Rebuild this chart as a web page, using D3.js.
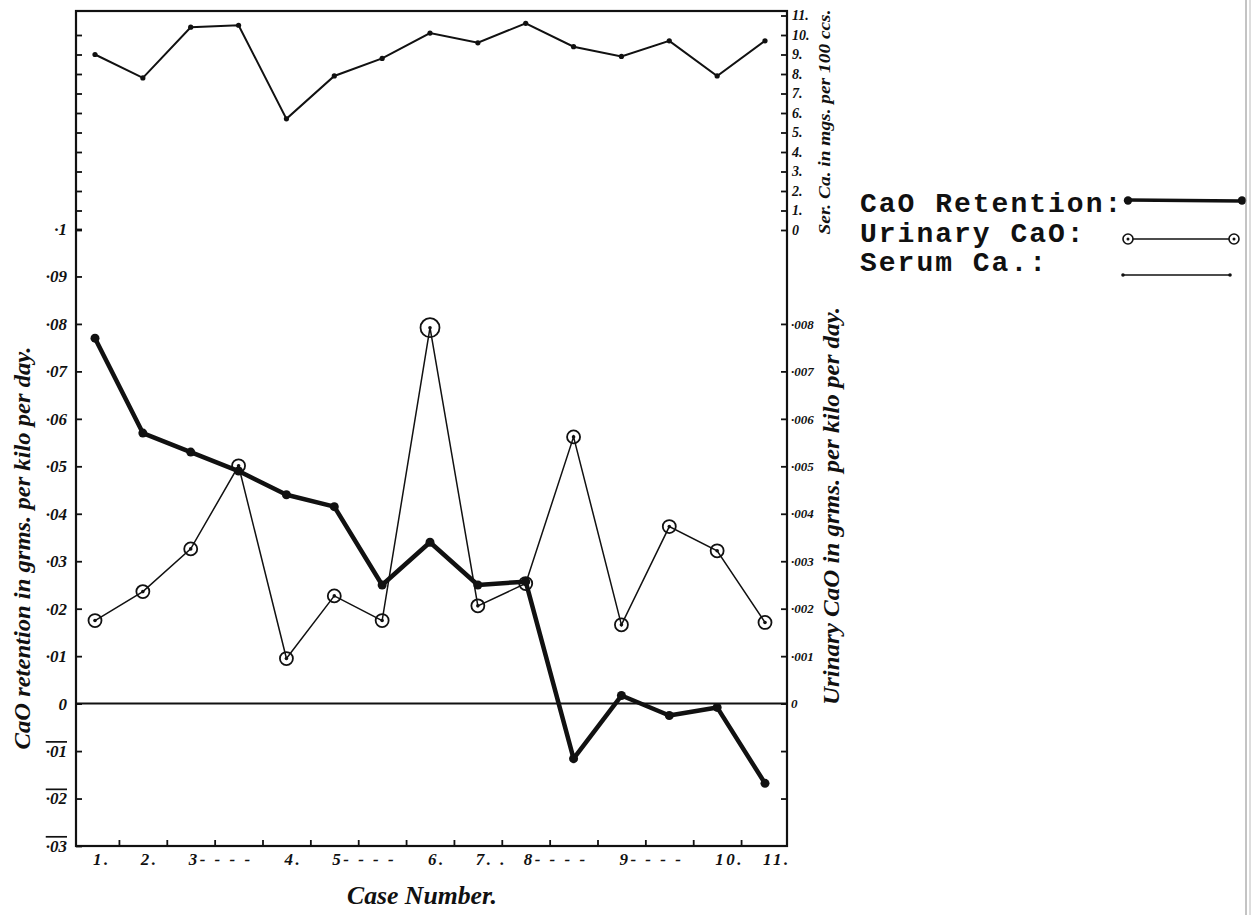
<!DOCTYPE html>
<html>
<head>
<meta charset="utf-8">
<script src="https://cdn.jsdelivr.net/npm/d3@7/dist/d3.min.js"></script>
<style>
  html, body { margin: 0; padding: 0; background: #fff; }
  svg { display: block; }
  .hand { font-family: "Liberation Serif", "DejaVu Serif", serif; font-style: italic; font-weight: bold; fill: #111; }
  .legend text { font-family: "Liberation Mono", "DejaVu Sans Mono", monospace; font-weight: bold; fill: #111; }
</style>
</head>
<body>
<svg id="chart" width="1253" height="915"></svg>
<script>
'use strict';

// Cases along the bottom; some cases span two observations.
var caseLabels = ['1.', '2.', '3- - - -', '4.', '5- - - -', '6.', '7. .', '8- - - -', '9- - - -', '10.', '11.'];
var caseStart = [0, 1, 2, 4, 5, 7, 8, 9, 11, 13, 14];

// CaO retention, grms. per kilo per day (left axis).
var retention = [0.077, 0.057, 0.053, 0.049, 0.044, 0.0415, 0.025, 0.034, 0.025, 0.0257,
  -0.0116, 0.0017, -0.0025, -0.0008, -0.0168];
// Urinary CaO, grms. per kilo per day (lower right axis).
var urinary = [0.00175, 0.00236, 0.00326, 0.00501, 0.00095, 0.00227, 0.00175, 0.00792,
  0.00206, 0.00253, 0.00562, 0.00166, 0.00373, 0.00322, 0.00171];
// Serum Ca., mgs. per 100 ccs. (upper right axis).
var serum = [9.0, 7.8, 10.4, 10.5, 5.7, 7.9, 8.8, 10.1, 9.6, 10.6, 9.4, 8.9, 9.7, 7.9, 9.7];

var retentionTicks = d3.range(-3, 11).map(function(i) { return i / 100; });
var urinaryTicks = d3.range(-2, 9).map(function(i) { return i / 1000; });
var serumTicks = d3.range(0, 12);
var serumLeftTicks = d3.range(0, 11);

var frame = { left: 76, right: 787, top: 11, bottom: 846 },
    ink = '#111',
    bigRing = 7;

var svg = d3.select('#chart');

var obs = d3.range(retention.length);
var x = d3.scaleLinear().domain([0, obs.length - 1]).range([95, 765]);
var yRet = d3.scaleLinear().domain([-0.03, 0.1]).range([frame.bottom, 229]);
var yUri = d3.scaleLinear().domain([-0.003, 0.01]).range([frame.bottom, 229]);
var ySer = d3.scaleLinear().domain([0, 11]).range([230, 15.5]);

/**
 * Turn 0.09 into '·09', the way the ticks were written by hand.
 */
function dotted(d, digits) {
  if (d === 0) {
    return '0';
  }
  return String(+Math.abs(d).toFixed(digits)).slice(1).replace('.', '\u00b7');
}

function styleAxis(g, size) {
  g.select('.domain').remove();
  g.selectAll('.tick line').attr('stroke', ink).attr('stroke-width', 1.8);
  g.selectAll('.tick text')
    .attr('class', 'hand')
    .attr('font-size', size)
    .attr('fill', ink);
}

// Frame and zero line.
svg.append('rect')
  .attr('x', frame.left)
  .attr('y', frame.top)
  .attr('width', frame.right - frame.left)
  .attr('height', frame.bottom - frame.top)
  .attr('fill', 'none')
  .attr('stroke', ink)
  .attr('stroke-width', 2.2);

svg.append('line')
  .attr('x1', frame.left).attr('x2', frame.right)
  .attr('y1', yRet(0)).attr('y2', yRet(0))
  .attr('stroke', ink)
  .attr('stroke-width', 2);

// Left axis: retention, plus unlabelled serum ticks above it.
svg.append('g')
  .attr('transform', 'translate(' + frame.left + ',0)')
  .call(d3.axisLeft(yRet).tickValues(retentionTicks).tickSize(-6).tickPadding(9)
    .tickFormat(function(d) { return dotted(d, 2); }))
  .call(styleAxis, 17)
  .selectAll('.tick text')
  .filter(function(d) { return d < 0; })
  .style('text-decoration', 'overline');

svg.append('g')
  .attr('transform', 'translate(' + frame.left + ',0)')
  .call(d3.axisLeft(ySer).tickValues(serumLeftTicks).tickSize(-6).tickFormat(''))
  .call(styleAxis, 12);

// Right axes: urinary below, serum above.
svg.append('g')
  .attr('transform', 'translate(' + frame.right + ',0)')
  .call(d3.axisRight(yUri).tickValues(urinaryTicks).tickSize(-6).tickPadding(4)
    .tickFormat(function(d) { return d < 0 ? '' : dotted(d, 3); }))
  .call(styleAxis, 13);

svg.append('g')
  .attr('transform', 'translate(' + frame.right + ',0)')
  .call(d3.axisRight(ySer).tickValues(serumTicks).tickSize(-6).tickPadding(5)
    .tickFormat(function(d) { return d === 0 ? '0' : d + '.'; }))
  .call(styleAxis, 14);

// Bottom axis: ticks sit between observations, case labels are written underneath.
svg.append('g')
  .attr('transform', 'translate(0,' + frame.bottom + ')')
  .call(d3.axisBottom(x).tickValues(d3.range(obs.length - 1).map(function(i) { return i + 0.5; }))
    .tickSize(-6).tickFormat(''))
  .call(styleAxis, 12);

svg.append('g')
  .selectAll('text')
  .data(caseLabels)
  .join('text')
  .attr('class', 'hand')
  .attr('x', function(d, i) { return x(caseStart[i]) - 2; })
  .attr('y', 865)
  .attr('font-size', 17)
  .attr('letter-spacing', 2.5)
  .text(function(d) { return d; });

// Axis titles.
function title(text, cx, cy, len, size, rotate) {
  svg.append('text')
    .attr('class', 'hand')
    .attr('transform', 'translate(' + cx + ',' + cy + ')' + (rotate ? ' rotate(-90)' : ''))
    .attr('text-anchor', 'middle')
    .attr('dominant-baseline', 'central')
    .attr('font-size', size)
    .attr('textLength', len)
    .attr('lengthAdjust', 'spacingAndGlyphs')
    .text(text);
}
title('CaO retention in grms. per kilo per day.', 22, 548, 403, 24, true);
title('Urinary CaO in grms. per kilo per day.', 831, 506, 398, 24, true);
title('Ser. Ca. in mgs. per 100 ccs.', 824, 122, 225, 17, true);
title('Case Number.', 422, 895, 150, 26, false);

// Series.
var plot = svg.append('g');

plot.append('path')
  .datum(serum)
  .attr('fill', 'none')
  .attr('stroke', ink)
  .attr('stroke-width', 2)
  .attr('d', d3.line().x(function(d, i) { return x(i); }).y(function(d) { return ySer(d); }));

plot.append('g')
  .selectAll('circle')
  .data(serum)
  .join('circle')
  .attr('cx', function(d, i) { return x(i); })
  .attr('cy', function(d) { return ySer(d); })
  .attr('r', 2.6)
  .attr('fill', ink);

plot.append('path')
  .datum(urinary)
  .attr('fill', 'none')
  .attr('stroke', ink)
  .attr('stroke-width', 1.5)
  .attr('d', d3.line().x(function(d, i) { return x(i); }).y(function(d) { return yUri(d); }));

plot.append('path')
  .datum(retention)
  .attr('fill', 'none')
  .attr('stroke', ink)
  .attr('stroke-width', 4.5)
  .attr('stroke-linejoin', 'round')
  .attr('d', d3.line().x(function(d, i) { return x(i); }).y(function(d) { return yRet(d); }));

plot.append('g')
  .selectAll('circle')
  .data(retention)
  .join('circle')
  .attr('cx', function(d, i) { return x(i); })
  .attr('cy', function(d) { return yRet(d); })
  .attr('r', 4.5)
  .attr('fill', ink);

var rings = plot.append('g')
  .selectAll('g')
  .data(urinary)
  .join('g')
  .attr('transform', function(d, i) { return 'translate(' + x(i) + ',' + yUri(d) + ')'; });

rings.append('circle')
  .attr('r', function(d, i) { return i === bigRing ? 9.5 : 6.5; })
  .attr('fill', 'none')
  .attr('stroke', ink)
  .attr('stroke-width', 1.8);

rings.append('circle')
  .attr('r', 1.8)
  .attr('fill', ink);

// Legend, typed.
var legend = svg.append('g').attr('class', 'legend');
var legendRows = ['CaO Retention:', 'Urinary CaO:', 'Serum Ca.:'];

legend.selectAll('text')
  .data(legendRows)
  .join('text')
  .attr('x', 860)
  .attr('y', function(d, i) { return 212 + i * 29.5; })
  .attr('font-size', 28)
  .attr('letter-spacing', 2)
  .text(function(d) { return d; });

legend.append('line')
  .attr('x1', 1128).attr('x2', 1242).attr('y1', 200).attr('y2', 201)
  .attr('stroke', ink).attr('stroke-width', 3.5);
legend.selectAll('.ret-end')
  .data([1128, 1242])
  .join('circle')
  .attr('cx', function(d) { return d; })
  .attr('cy', 200.5)
  .attr('r', 4.2)
  .attr('fill', ink);

legend.append('line')
  .attr('x1', 1133).attr('x2', 1229).attr('y1', 239).attr('y2', 239)
  .attr('stroke', ink).attr('stroke-width', 1.6);
var legendRings = legend.selectAll('.uri-end')
  .data([1128, 1234])
  .join('g')
  .attr('transform', function(d) { return 'translate(' + d + ',239)'; });
legendRings.append('circle').attr('r', 5).attr('fill', '#fff').attr('stroke', ink).attr('stroke-width', 1.6);
legendRings.append('circle').attr('r', 1.5).attr('fill', ink);

legend.append('line')
  .attr('x1', 1123).attr('x2', 1230).attr('y1', 275).attr('y2', 275)
  .attr('stroke', ink).attr('stroke-width', 1.5);
legend.selectAll('.ser-end')
  .data([1123, 1230])
  .join('circle')
  .attr('cx', function(d) { return d; })
  .attr('cy', 275)
  .attr('r', 1.8)
  .attr('fill', ink);

// Edge of the scanned sheet.
svg.append('line')
  .attr('x1', 1246).attr('x2', 1246).attr('y1', 0).attr('y2', 915)
  .attr('stroke', '#888').attr('stroke-width', 1);
svg.append('line')
  .attr('x1', 1250).attr('x2', 1250).attr('y1', 0).attr('y2', 915)
  .attr('stroke', '#bbb').attr('stroke-width', 1);
</script>
</body>
</html>
